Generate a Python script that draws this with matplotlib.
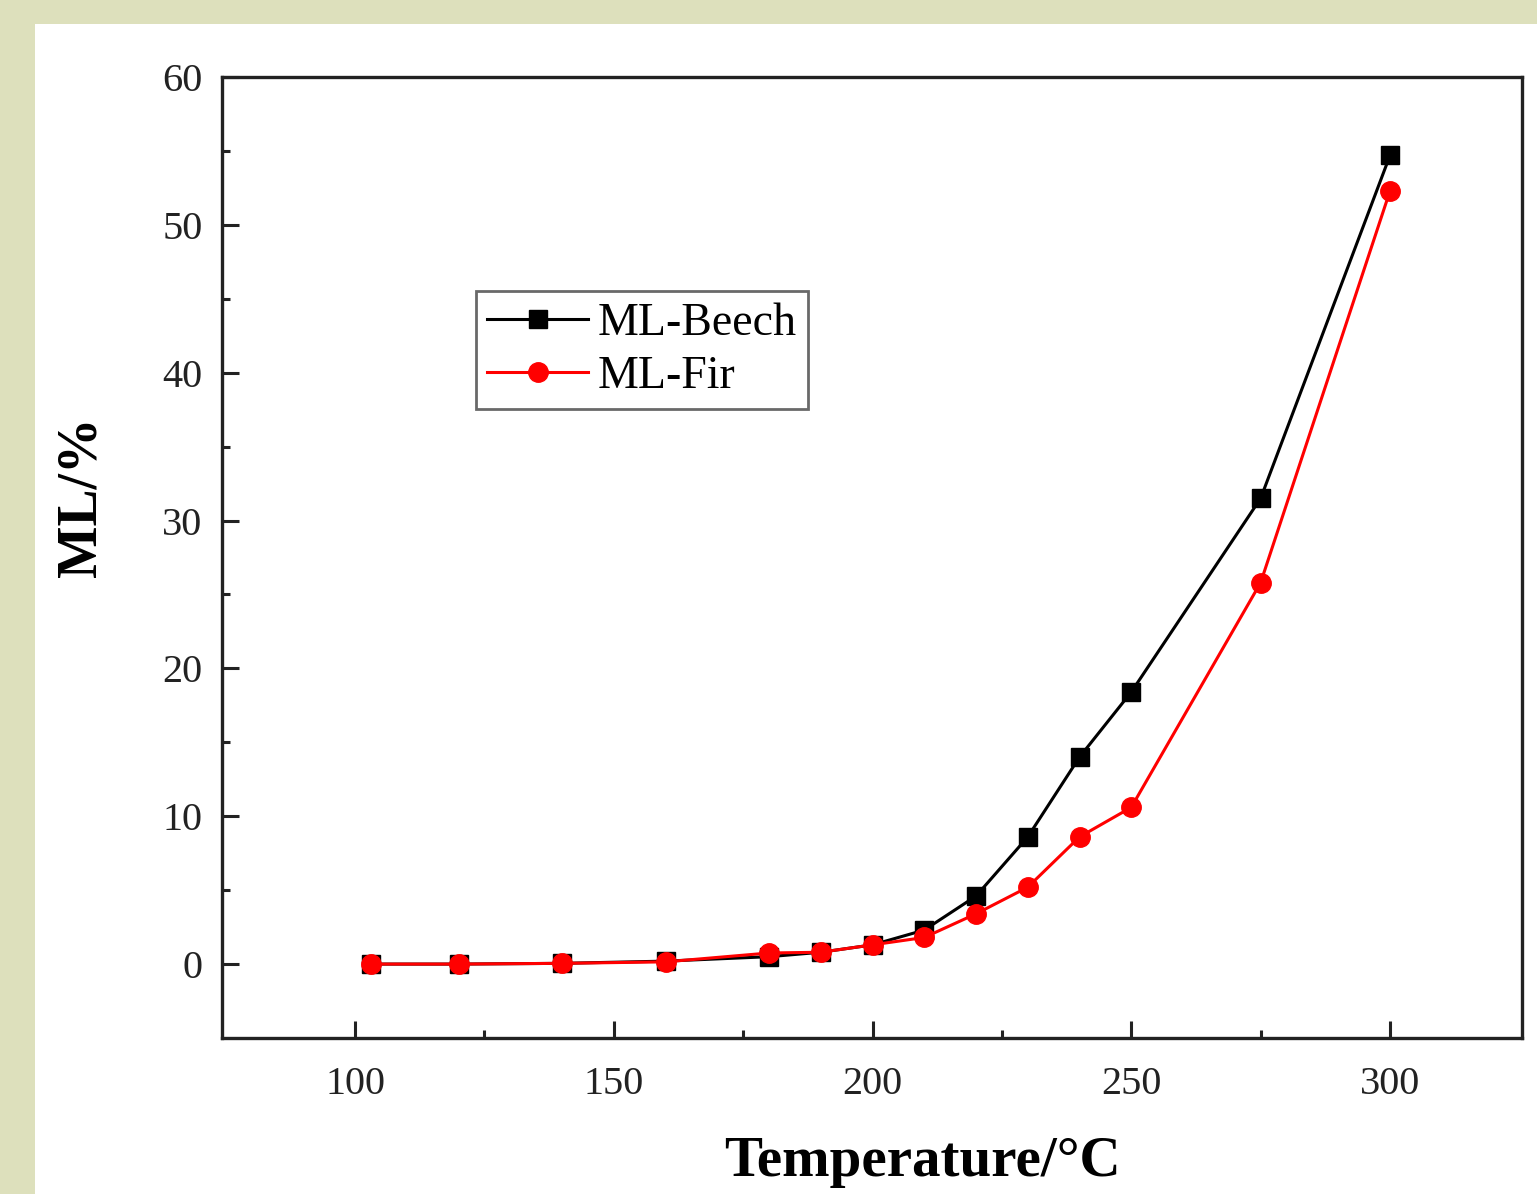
import matplotlib
matplotlib.use("Agg")
import matplotlib.pyplot as plt
from matplotlib.ticker import MultipleLocator, FixedLocator

temperature = [103, 120, 140, 160, 180, 190, 200, 210, 220, 230, 240, 250, 275, 300]
ml_beech = [0.0, 0.0, 0.05, 0.2, 0.5, 0.8, 1.3, 2.3, 4.6, 8.6, 14.0, 18.4, 31.5, 54.7]
ml_fir = [0.0, 0.0, 0.05, 0.15, 0.75, 0.8, 1.3, 1.8, 3.4, 5.2, 8.6, 10.6, 25.8, 52.3]
series_labels = ["ML-Beech", "ML-Fir"]

plt.rcParams['font.family'] = ['Liberation Serif', 'DejaVu Serif']

fig = plt.figure(figsize=(15.37, 11.94), dpi=100, facecolor='#dde0bc')
bg = fig.add_axes([35/1537, 0, 1 - 35/1537, 1 - 24/1194], zorder=-5)
bg.set_facecolor('white')
bg.set_axis_off()
bg.add_artist(bg.patch)

ax = fig.add_axes([222/1537, 1 - 1038/1194, (1522-222)/1537, (1038-77)/1194], zorder=1)
ax.set_facecolor('white')

ax.plot(temperature, ml_beech, color='black', marker='s', markersize=13,
        linewidth=2.2, label=series_labels[0])
ax.plot(temperature, ml_fir, color='red', marker='o', markersize=14,
        linewidth=2.2, label=series_labels[1])

ax.set_xlim(74.3, 325.5)
ax.set_ylim(-5, 60)
ax.xaxis.set_major_locator(MultipleLocator(50))
ax.xaxis.set_minor_locator(FixedLocator([125, 175, 225, 275]))
ax.yaxis.set_major_locator(MultipleLocator(10))
ax.yaxis.set_minor_locator(FixedLocator([5, 15, 25, 35, 45, 55]))
ax.tick_params(which='both', direction='in', width=2.2, colors='#222222', labelcolor='#222222')
ax.tick_params(which='major', length=12, labelsize=29, pad=14)
ax.tick_params(axis='x', which='major', pad=20)
ax.tick_params(which='minor', length=6)
for s in ax.spines.values():
    s.set_linewidth(2.4)
    s.set_color('#222222')

ax.set_xlabel('Temperature/°C', fontsize=41, fontweight='bold')
ax.set_ylabel('ML/%', fontsize=40, fontweight='bold')
ax.xaxis.set_label_coords((922 - 222) / 1300, -(1162 - 1038) / 961)
ax.yaxis.set_label_coords(-(222 - 81) / 1300, (1038 - 497) / 961)
ax.xaxis.label.set_va('center')
ax.yaxis.label.set_va('center')

leg = ax.legend(loc='upper left', bbox_to_anchor=((476-222)/1300, 1 - (291-77)/961),
                fontsize=33, frameon=True, fancybox=False, edgecolor='#444444',
                handlelength=2.2, handletextpad=0.2, borderpad=0.25, labelspacing=0.22,
                borderaxespad=0)
leg.get_frame().set_linewidth(2)

fig.savefig('out.png', dpi=100, facecolor=fig.get_facecolor())
